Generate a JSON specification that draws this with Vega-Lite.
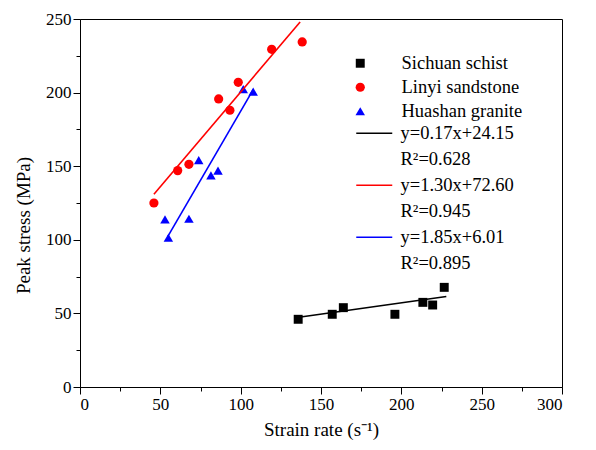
{
  "$schema": "https://vega.github.io/schema/vega-lite/v6.json",
  "width": 482,
  "height": 368,
  "autosize": {"type": "none"},
  "padding": {"left": 80, "top": 19, "right": 34, "bottom": 63},
  "background": "white",
  "config": {
    "view": {"stroke": "black", "strokeWidth": 1},
    "axis": {
      "grid": false,
      "labelFont": "Liberation Serif",
      "labelFontSize": 17,
      "labelColor": "black",
      "titleFont": "Liberation Serif",
      "titleFontSize": 19,
      "titleFontWeight": "normal",
      "titleColor": "black",
      "domainColor": "black",
      "tickColor": "black",
      "tickWidth": 1,
      "labelPadding": 2
    },
    "legend": {
      "labelFont": "Liberation Serif",
      "labelFontSize": 18.5,
      "labelColor": "black",
      "padding": 0
    }
  },
  "datasets": {
    "points": [
      {"rock": "Sichuan schist", "rate": 135.8, "stress": 46.0},
      {"rock": "Sichuan schist", "rate": 157.0, "stress": 49.4},
      {"rock": "Sichuan schist", "rate": 163.9, "stress": 53.9},
      {"rock": "Sichuan schist", "rate": 196.0, "stress": 49.4},
      {"rock": "Sichuan schist", "rate": 213.4, "stress": 57.5},
      {"rock": "Sichuan schist", "rate": 219.5, "stress": 55.7},
      {"rock": "Sichuan schist", "rate": 226.7, "stress": 67.7},
      {"rock": "Linyi sandstone", "rate": 46.0, "stress": 125.0},
      {"rock": "Linyi sandstone", "rate": 60.8, "stress": 147.0},
      {"rock": "Linyi sandstone", "rate": 67.8, "stress": 151.3},
      {"rock": "Linyi sandstone", "rate": 86.3, "stress": 195.7},
      {"rock": "Linyi sandstone", "rate": 93.3, "stress": 188.0},
      {"rock": "Linyi sandstone", "rate": 98.5, "stress": 207.0},
      {"rock": "Linyi sandstone", "rate": 119.3, "stress": 229.4},
      {"rock": "Linyi sandstone", "rate": 138.3, "stress": 234.4},
      {"rock": "Huashan granite", "rate": 52.9, "stress": 113.9},
      {"rock": "Huashan granite", "rate": 67.8, "stress": 114.3},
      {"rock": "Huashan granite", "rate": 55.0, "stress": 101.4},
      {"rock": "Huashan granite", "rate": 73.9, "stress": 154.2},
      {"rock": "Huashan granite", "rate": 81.5, "stress": 143.8},
      {"rock": "Huashan granite", "rate": 85.9, "stress": 147.0},
      {"rock": "Huashan granite", "rate": 101.6, "stress": 202.4},
      {"rock": "Huashan granite", "rate": 107.8, "stress": 200.6}
    ],
    "fits": [
      {"fit": "y=0.17x+24.15", "rate": 134, "stress": 47.0},
      {"fit": "y=0.17x+24.15", "rate": 228, "stress": 61.5},
      {"fit": "y=1.30x+72.60", "rate": 46, "stress": 131},
      {"fit": "y=1.30x+72.60", "rate": 137, "stress": 248},
      {"fit": "y=1.85x+6.01", "rate": 54.5, "stress": 102},
      {"fit": "y=1.85x+6.01", "rate": 107.8, "stress": 202}
    ]
  },
  "layer": [
    {
      "data": {"name": "points"},
      "mark": {"type": "point", "filled": true, "opacity": 1},
      "encoding": {
        "x": {
          "field": "rate", "type": "quantitative",
          "scale": {"domain": [0, 300], "nice": false, "zero": false},
          "axis": {"orient": "bottom", "values": [0, 50, 100, 150, 200, 250, 300], "tickSize": 7, "title": "Strain rate (s⁻¹)", "titlePadding": 8}
        },
        "y": {
          "field": "stress", "type": "quantitative",
          "scale": {"domain": [0, 250], "nice": false, "zero": false},
          "axis": {"orient": "left", "values": [0, 50, 100, 150, 200, 250], "tickSize": 7, "title": "Peak stress (MPa)", "titlePadding": 12, "titleY": 206}
        },
        "size": {
          "field": "rock", "type": "nominal",
          "scale": {"domain": ["Sichuan schist", "Linyi sandstone", "Huashan granite"], "range": [80, 90, 130]},
          "legend": null
        },
        "color": {
          "field": "rock", "type": "nominal",
          "scale": {"domain": ["Sichuan schist", "Linyi sandstone", "Huashan granite"], "range": ["black", "red", "blue"]},
          "legend": {"title": null, "orient": "none", "legendX": 271, "legendY": 35, "labelOffset": 32, "rowPadding": 5, "symbolSize": 64}
        },
        "shape": {
          "field": "rock", "type": "nominal",
          "scale": {"domain": ["Sichuan schist", "Linyi sandstone", "Huashan granite"], "range": ["square", "circle", "triangle-up"]},
          "legend": {"title": null, "orient": "none", "legendX": 271, "legendY": 35, "labelOffset": 32, "rowPadding": 5, "symbolSize": 64}
        }
      }
    },
    {
      "data": {"name": "fits"},
      "mark": {"type": "line", "strokeWidth": 1.6},
      "encoding": {
        "x": {
          "field": "rate", "type": "quantitative",
          "axis": {"orient": "bottom", "values": [25, 75, 125, 175, 225, 275], "tickSize": 4, "labels": false, "domain": false, "title": null}
        },
        "y": {
          "field": "stress", "type": "quantitative",
          "axis": {"orient": "left", "values": [25, 75, 125, 175, 225], "tickSize": 4, "labels": false, "domain": false, "title": null}
        },
        "stroke": {
          "field": "fit", "type": "nominal",
          "scale": {
            "domain": ["y=0.17x+24.15", " R²=0.628", "y=1.30x+72.60", " R²=0.945", "y=1.85x+6.01", " R²=0.895"],
            "range": ["black", "transparent", "red", "transparent", "blue", "transparent"]
          },
          "legend": {"title": null, "orient": "none", "legendX": 285, "legendY": 105, "symbolType": "M-18,0H18", "symbolSize": 4, "symbolStrokeWidth": 1.6, "labelOffset": 17, "rowPadding": 7}
        }
      }
    }
  ],
  "resolve": {"axis": {"x": "independent", "y": "independent"}}
}
